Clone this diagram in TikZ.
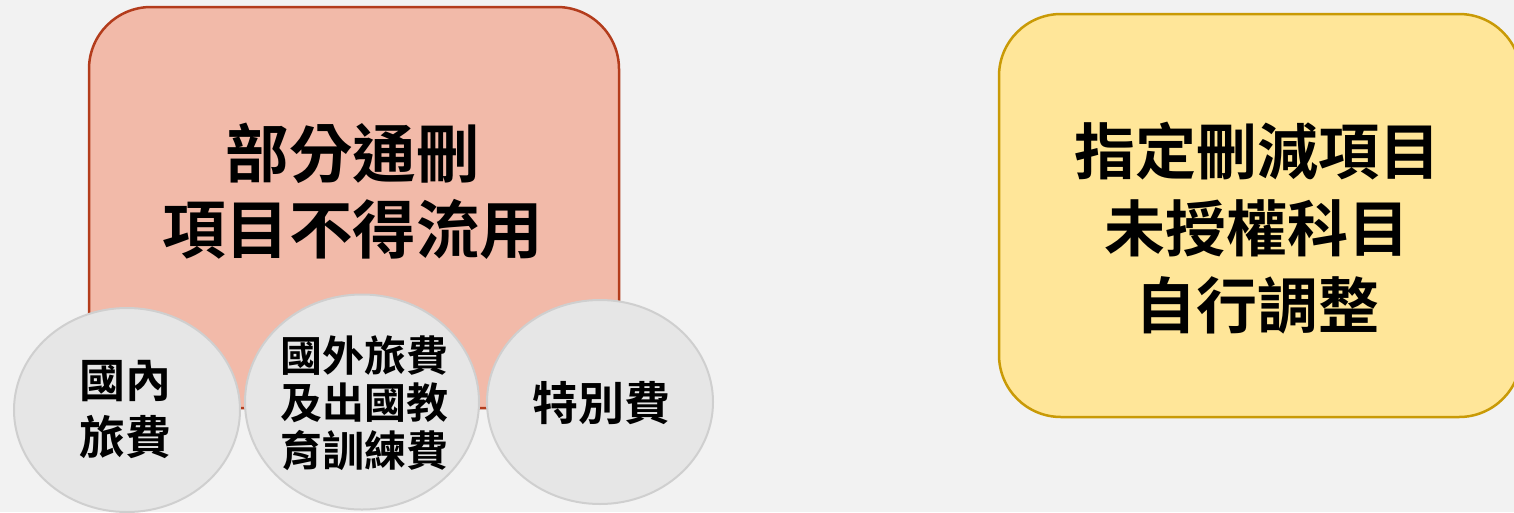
\documentclass[tikz,border=0pt]{standalone}
\usepackage{fontspec}
\newfontfamily\cjkb{Noto Sans CJK TC Bold}
\definecolor{bgc}{HTML}{F2F2F2}
\definecolor{redfill}{HTML}{F2BAA9}
\definecolor{reddraw}{HTML}{B33C1C}
\definecolor{yelfill}{HTML}{FFE699}
\definecolor{yeldraw}{HTML}{C99A06}
\definecolor{cirfill}{HTML}{E6E6E6}
\definecolor{cirdraw}{HTML}{CFCFCF}
\usetikzlibrary{shapes.geometric}
\tikzset{
  bigbox/.style={rectangle, rounded corners=62pt, line width=2.5pt, inner sep=0pt},
  bubble/.style={ellipse, fill=cirfill, draw=cirdraw, line width=2pt, inner sep=0pt},
  bigtext/.style={align=center, inner sep=0pt, font=\cjkb\fontsize{63.5}{76}\selectfont},
  yeltext/.style={align=center, inner sep=0pt, font=\cjkb\fontsize{61}{77}\selectfont},
  smalltext/.style={align=center, inner sep=0pt}
}
\begin{document}
\begin{tikzpicture}[x=1pt,y=-1pt]
\useasboundingbox (0,0) rectangle (1514,512);
\fill[bgc] (0,0) rectangle (1514,512);
\begin{scope}
\clip (0,0) rectangle (1514,512);
\node[bigbox, fill=redfill, draw=reddraw, minimum width=530pt, minimum height=401pt] (red) at (354,207.5) {};
\node[bigbox, fill=yelfill, draw=yeldraw, minimum width=522pt, minimum height=403pt] (yel) at (1260,215.5) {};
\node[bigtext] (redt) at (352.5,191) {部分通刪\\項目不得流用};
\node[yeltext] (yelt) at (1257,228) {指定刪減項目\\未授權科目\\自行調整};
\node[bubble, minimum width=226pt, minimum height=204pt] (c1) at (127,410) {};
\node[bubble, minimum width=234pt, minimum height=215pt] (c2) at (362,402) {};
\node[bubble, minimum width=226pt, minimum height=204pt] (c3) at (600,402) {};
\node[smalltext, font=\cjkb\fontsize{46}{57}\selectfont] (c1t) at (125,409) {國內\\旅費};
\node[smalltext, font=\cjkb\fontsize{42}{47.5}\selectfont] (c2t) at (364,403) {國外旅費\\及出國教\\育訓練費};
\node[smalltext, font=\cjkb\fontsize{46}{57}\selectfont] (c3t) at (601,403) {特別費};
\end{scope}
\end{tikzpicture}
\end{document}
